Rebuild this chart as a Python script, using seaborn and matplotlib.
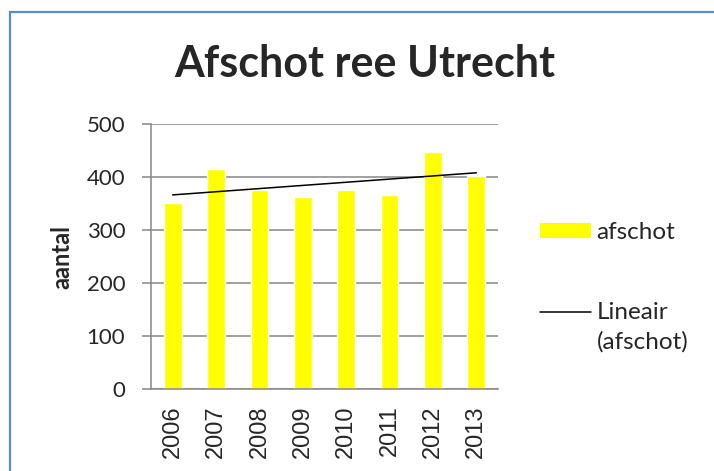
import numpy as np
import pandas as pd
import matplotlib
matplotlib.use("Agg")
import matplotlib.pyplot as plt
import seaborn as sns
from matplotlib.patches import Rectangle, Patch
from matplotlib.lines import Line2D
from matplotlib.legend_handler import HandlerLine2D

# data
years = ['2006', '2007', '2008', '2009', '2010', '2011', '2012', '2013']
afschot = [351, 415, 376, 363, 376, 367, 448, 401]
yticks = [0, 100, 200, 300, 400, 500]

df = pd.DataFrame({'jaar': years, 'afschot': afschot})

sns.set_style('white')
plt.rcParams['font.family'] = ['Lato', 'DejaVu Sans']

GRAY = '#868686'
YELLOW = '#FFFF00'
FS = 17.5
LSP = 1.5


# legend handler that lifts the trendline up to the first label line
class LineUp(HandlerLine2D):
    def __init__(self, shift, **kw):
        super().__init__(**kw)
        self.shift = shift

    def create_artists(self, legend, orig_handle, xdescent, ydescent,
                       width, height, fontsize, trans):
        arts = super().create_artists(legend, orig_handle, xdescent, ydescent,
                                      width, height, fontsize, trans)
        for a in arts:
            a.set_ydata(np.asarray(a.get_ydata()) + self.shift)
        return arts


fig = plt.figure(figsize=(7.14, 4.71), dpi=100)
ax = fig.add_axes([0.2115, 0.1741, 0.486, 0.5626])

sns.barplot(data=df, x='jaar', y='afschot', color=YELLOW, saturation=1,
            width=0.41, ax=ax)

# linear trendline (Excel "Lineair")
idx = np.arange(len(years))
slope, icpt = np.polyfit(idx, afschot, 1)
ax.plot(idx, slope * idx + icpt, color='black', lw=1.1)

ax.set_xlim(-0.5, len(years) - 0.5)
ax.set_ylim(0, 500)
ax.set_yticks(yticks)
ax.yaxis.grid(True, color=GRAY, lw=1.1)
ax.xaxis.grid(False)
ax.set_axisbelow(True)
for s in ['top', 'right']:
    ax.spines[s].set_visible(False)
for s in ['left', 'bottom']:
    ax.spines[s].set_color(GRAY)
    ax.spines[s].set_linewidth(1.1)

ax.tick_params(axis='y', left=True, length=6.5, width=1.1, color=GRAY,
               pad=12, labelsize=16)
ax.tick_params(axis='x', bottom=False, length=0, pad=12, labelrotation=90)
for t in ax.get_xticklabels():
    t.set_fontfamily('Liberation Sans')
    t.set_fontsize(17)

ax.set_xlabel('')
ax.set_ylabel('aantal', fontweight='bold', fontsize=17)
ax.yaxis.set_label_coords(-0.225, 0.5)

fig.text(0.511, 0.8365, 'Afschot ree Utrecht', ha='center', va='baseline',
         fontsize=31, fontweight='bold')

# legend
bar_h = Patch(facecolor=YELLOW, edgecolor='none')
trend_h = Line2D([], [], color='black', lw=1.1)
leg = ax.legend([bar_h, trend_h], ['afschot', 'Lineair\n(afschot)'],
                loc='upper left', bbox_to_anchor=(0.7563, 0.5287),
                bbox_transform=fig.transFigure, frameon=False, fontsize=FS,
                handlelength=2.1, handleheight=0.6, handletextpad=0.22,
                labelspacing=2.42, borderpad=0, borderaxespad=0,
                handler_map={trend_h: LineUp(0.5 * LSP * 15.4)})
leg.get_texts()[1].set_linespacing(LSP)

# chart border (only top and left edge visible in the crop)
fig.add_artist(Rectangle((0.014, -0.05), 1.1, 0.9745 + 0.05,
                         transform=fig.transFigure, fill=False,
                         edgecolor='#5A8BD2', lw=1.6, clip_on=False))

fig.savefig('out.png', dpi=100)
